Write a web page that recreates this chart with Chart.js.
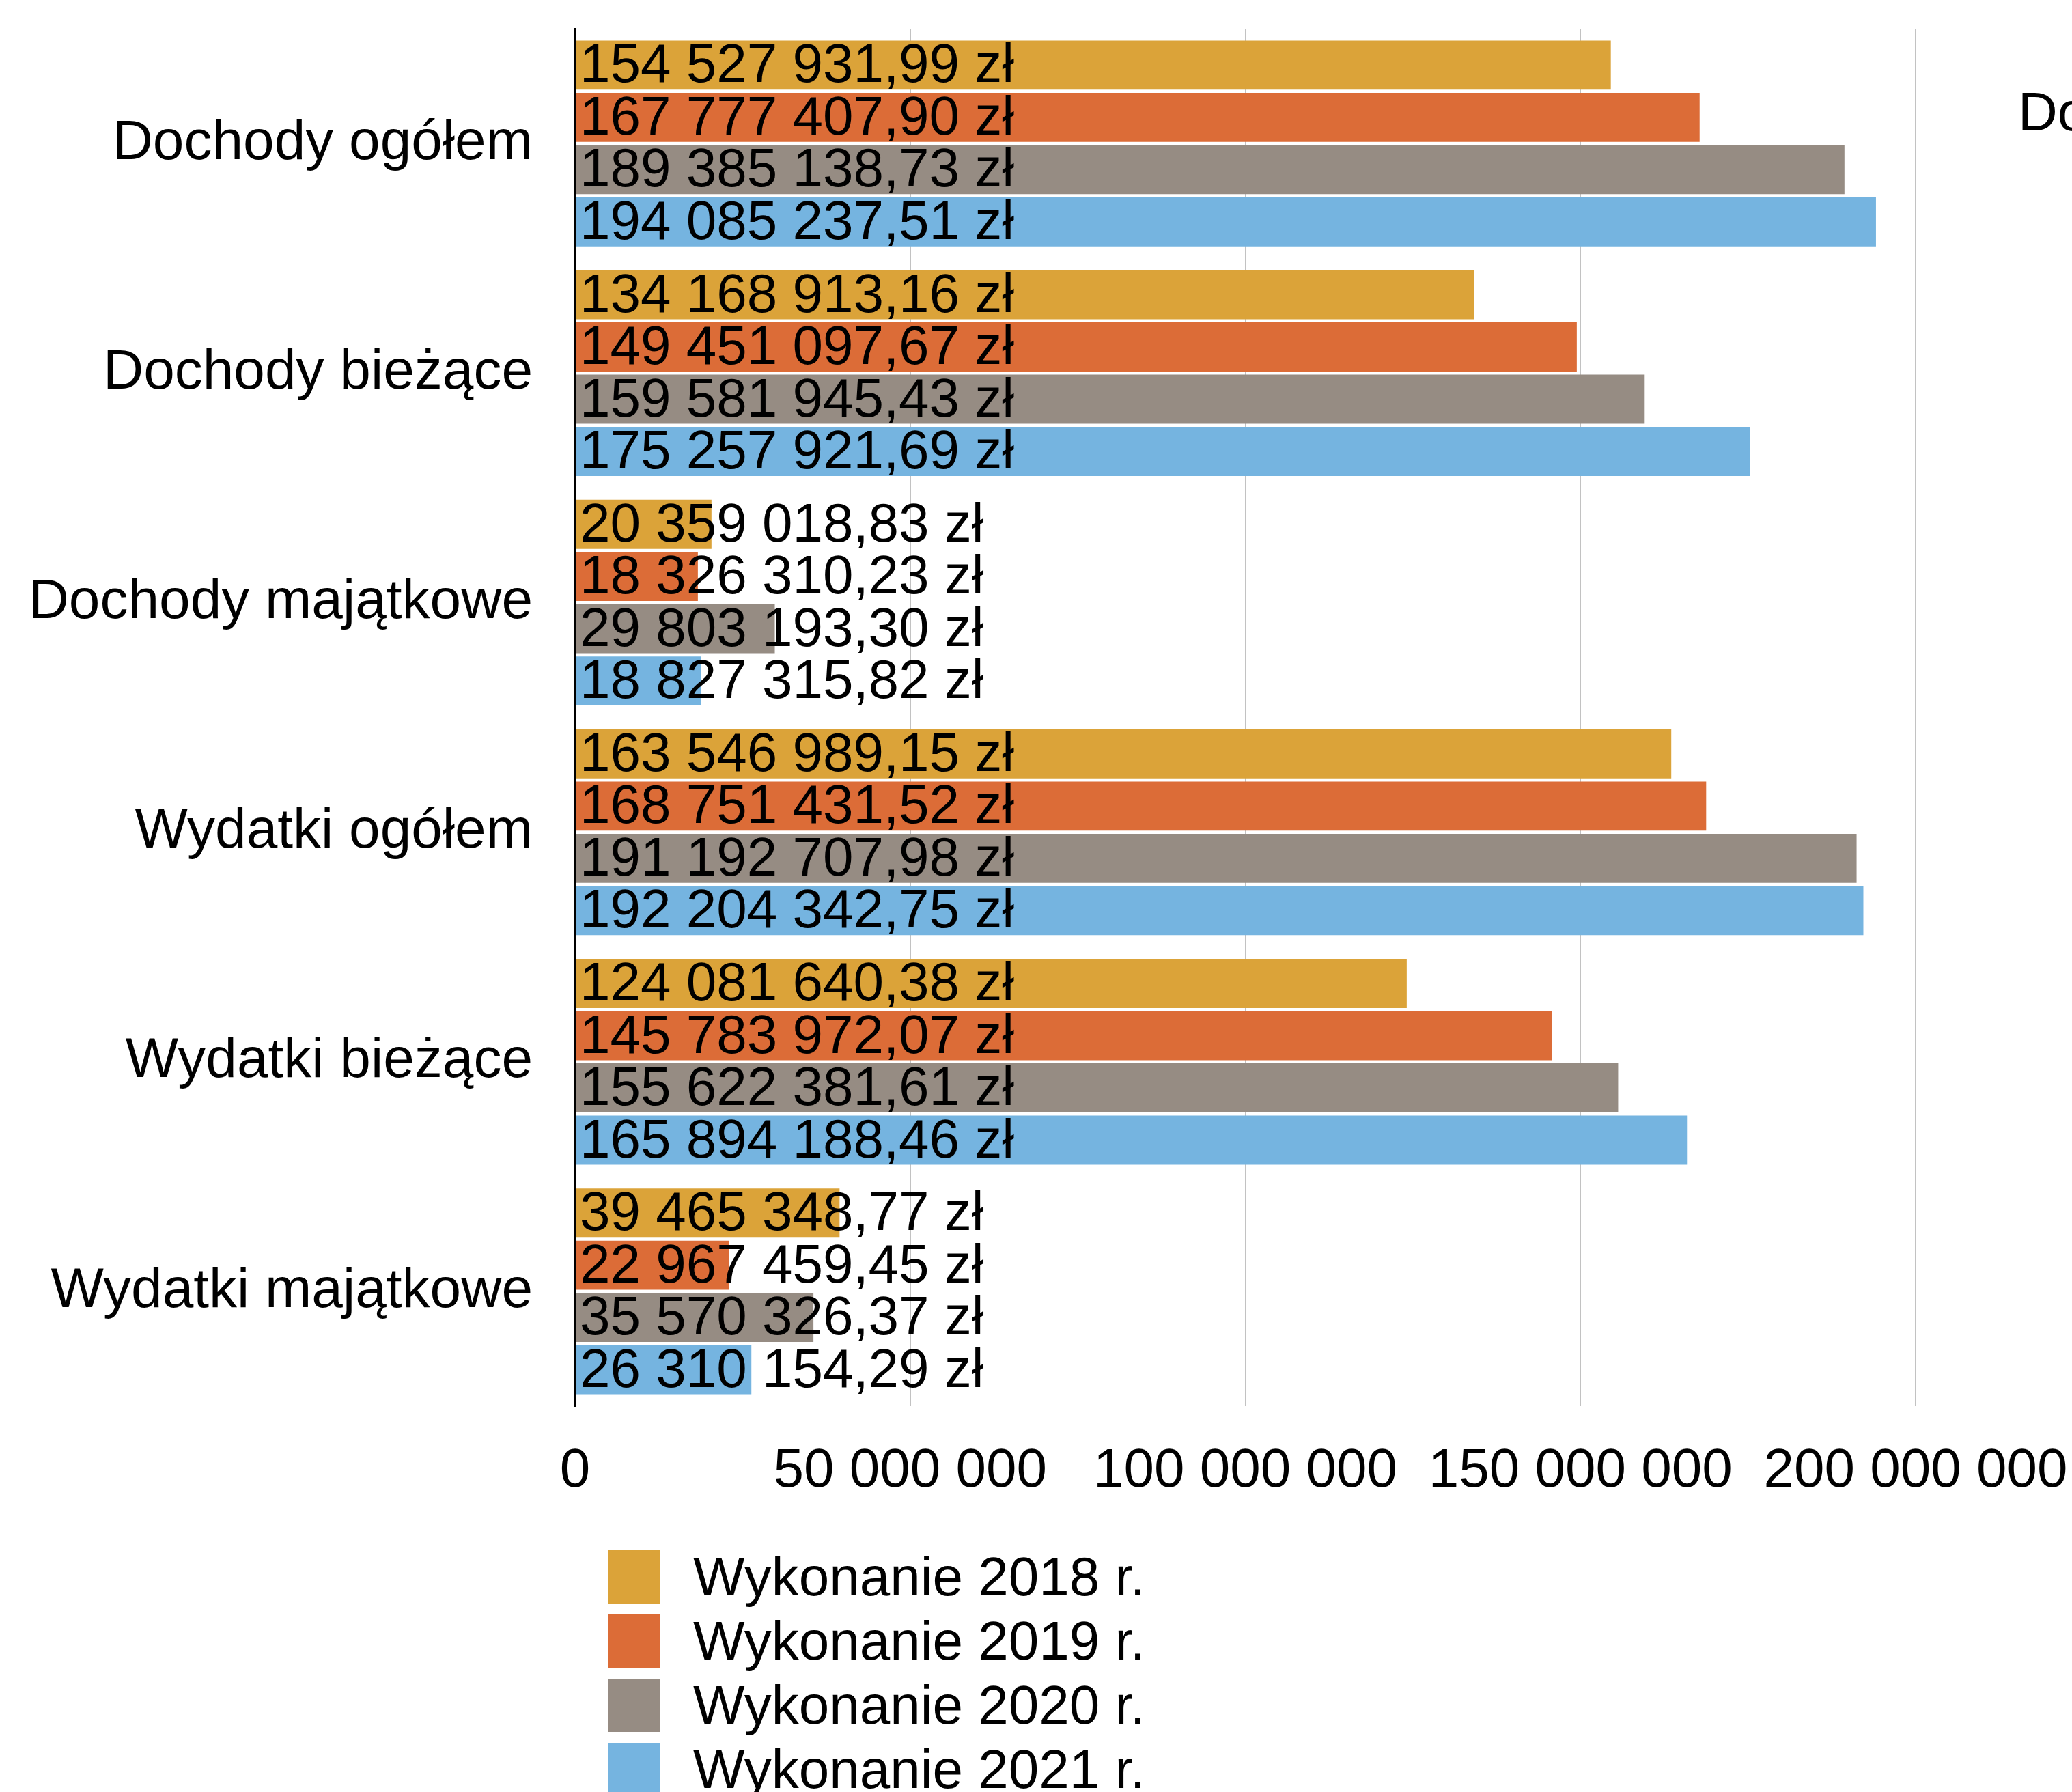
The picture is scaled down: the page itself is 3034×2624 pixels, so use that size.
<!DOCTYPE html>
<html>
<head>
<meta charset="utf-8">
<script src="https://cdn.jsdelivr.net/npm/chart.js@4/dist/chart.umd.min.js"></script>
<style>
  html, body { margin: 0; padding: 0; background: #fff; overflow: hidden; }
  body { width: 3034px; height: 2624px; position: relative; font-family: "Liberation Sans", Arial, Helvetica, sans-serif; }
  #wrap { position: absolute; left: 0; top: 0; width: 3034px; height: 2260px; }
  #side { position: absolute; left: 2955px; top: 118px; font-size: 80px; white-space: nowrap; color: #000; }
  #legend { position: absolute; left: 891px; top: 2262px; font-size: 80px; color: #000; }
  #legend .row { display: flex; align-items: center; height: 94px; }
  #legend .box { width: 75px; height: 78px; margin-right: 49px; }
</style>
</head>
<body>
<div id="wrap"><canvas id="chart"></canvas></div>
<div id="side">Dochody</div>
<div id="legend"></div>
<script>
const categories = ['Dochody ogółem', 'Dochody bieżące', 'Dochody majątkowe', 'Wydatki ogółem', 'Wydatki bieżące', 'Wydatki majątkowe'];
const seriesNames = ['Wykonanie 2018 r.', 'Wykonanie 2019 r.', 'Wykonanie 2020 r.', 'Wykonanie 2021 r.'];
const seriesColors = ['#dba339', '#dc6c37', '#968c83', '#75b4e0'];

const values2018 = [154527931.99, 134168913.16, 20359018.83, 163546989.15, 124081640.38, 39465348.77];
const values2019 = [167777407.90, 149451097.67, 18326310.23, 168751431.52, 145783972.07, 22967459.45];
const values2020 = [189385138.73, 159581945.43, 29803193.30, 191192707.98, 155622381.61, 35570326.37];
const values2021 = [194085237.51, 175257921.69, 18827315.82, 192204342.75, 165894188.46, 26310154.29];

const xTicks = [0, 50000000, 100000000, 150000000, 200000000];

const FONT = '"Liberation Sans", Arial, Helvetica, sans-serif';

function groupThousands(s) {
  return s.replace(/\B(?=(\d{3})+(?!\d))/g, ' ');
}
function fmtMoney(v) {
  const parts = v.toFixed(2).split('.');
  return groupThousands(parts[0]) + ',' + parts[1] + ' zł';
}

const allValues = [values2018, values2019, values2020, values2021];

// value text at the start of every bar
const valueLabels = {
  id: 'valueLabels',
  afterDatasetsDraw(chart) {
    const ctx = chart.ctx;
    ctx.save();
    ctx.font = '80px ' + FONT;
    ctx.fillStyle = '#000';
    ctx.textAlign = 'left';
    ctx.textBaseline = 'middle';
    chart.data.datasets.forEach((ds, i) => {
      chart.getDatasetMeta(i).data.forEach((bar, j) => {
        ctx.fillText(fmtMoney(ds.data[j]), bar.base + 6, bar.y + 3);
      });
    });
    ctx.restore();
  }
};

new Chart(document.getElementById('chart').getContext('2d'), {
  type: 'bar',
  data: {
    labels: categories,
    datasets: allValues.map((vals, i) => ({
      label: seriesNames[i],
      data: vals,
      backgroundColor: seriesColors[i],
      borderWidth: 0,
      barPercentage: 0.94,
      categoryPercentage: 0.91
    }))
  },
  options: {
    indexAxis: 'y',
    responsive: true,
    maintainAspectRatio: false,
    animation: false,
    layout: { padding: { top: 42, right: 229, left: 0, bottom: 58 } },
    plugins: {
      legend: { display: false },
      tooltip: { enabled: false }
    },
    scales: {
      x: {
        min: 0,
        max: 200000000,
        z: 1,
        afterBuildTicks(scale) {
          scale.ticks = xTicks.map(v => ({ value: v }));
        },
        afterFit(scale) {
          scale.height = 143;
          scale.paddingLeft = 0;
          scale.paddingRight = 0;
        },
        grid: {
          color: c => (c.tick && c.tick.value === 0 ? '#000' : 'rgba(0,0,0,0.24)'),
          lineWidth: 2,
          drawTicks: false
        },
        border: { display: false },
        ticks: {
          padding: 48,
          maxRotation: 0,
          color: '#000',
          font: { family: FONT, size: 80 },
          callback: v => groupThousands(String(v))
        }
      },
      y: {
        afterFit(scale) {
          scale.width = 842;
          scale.paddingTop = 0;
          scale.paddingBottom = 0;
        },
        grid: { display: false, drawTicks: false },
        border: { display: true, color: '#000', width: 2 },
        ticks: {
          padding: 62,
          color: '#000',
          font: { family: FONT, size: 82 }
        }
      }
    }
  },
  plugins: [valueLabels]
});

const legend = document.getElementById('legend');
seriesNames.forEach((name, i) => {
  const row = document.createElement('div');
  row.className = 'row';
  row.innerHTML = `<span class="box" style="background:${seriesColors[i]}"></span><span>${name}</span>`;
  legend.appendChild(row);
});
</script>
</body>
</html>
